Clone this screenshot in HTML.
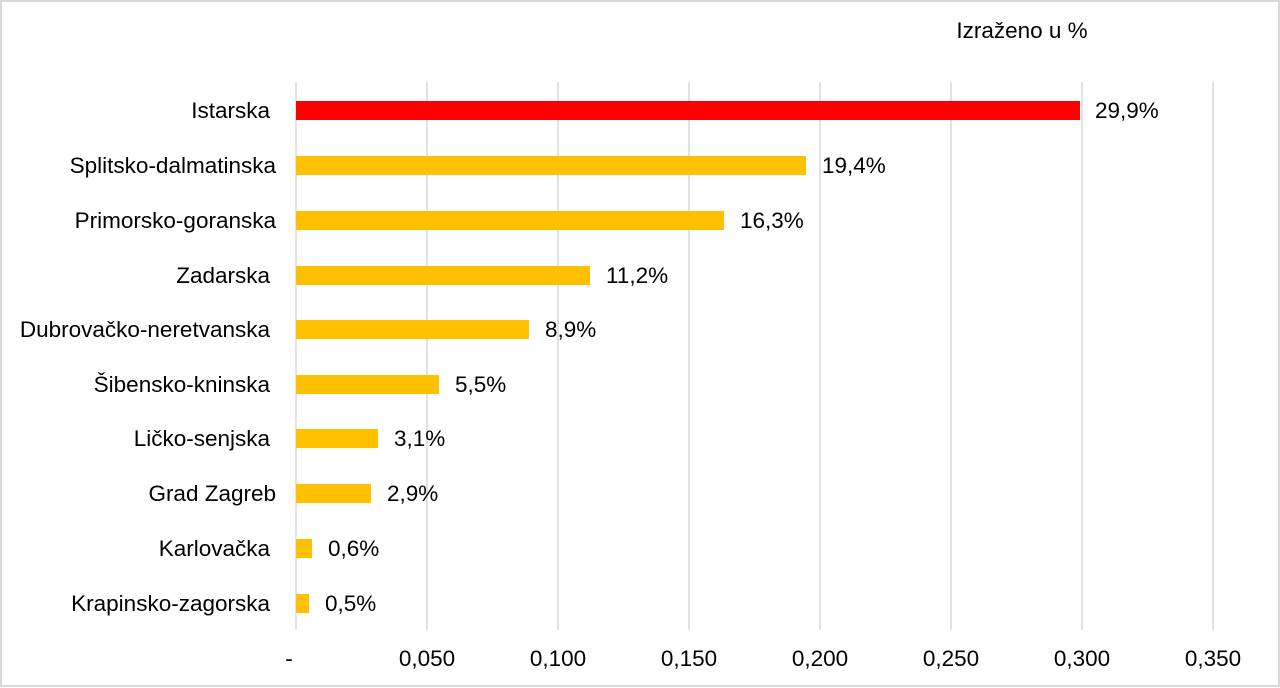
<!DOCTYPE html><html><head><style>body{margin:0}svg{display:block}text{font-family:"Liberation Sans",sans-serif;font-size:22.5px;fill:#000}</style></head><body>
<svg width="1280" height="688" xmlns="http://www.w3.org/2000/svg">
<rect x="0" y="0" width="1280" height="688" fill="#fff"/>
<rect x="1" y="1" width="1278" height="685" fill="none" stroke="#d9d9d9" stroke-width="2"/>
<g stroke="#d9d9d9" stroke-width="1.5">
<line x1="296" y1="82" x2="296" y2="630"/><line x1="427" y1="82" x2="427" y2="630"/><line x1="558" y1="82" x2="558" y2="630"/><line x1="689" y1="82" x2="689" y2="630"/><line x1="820" y1="82" x2="820" y2="630"/><line x1="951" y1="82" x2="951" y2="630"/><line x1="1082" y1="82" x2="1082" y2="630"/><line x1="1213" y1="82" x2="1213" y2="630"/>
</g>
<text x="1022" y="38" text-anchor="middle">Izraženo u %</text>
<g>
<rect x="296" y="101" width="784" height="19" fill="#ff0000"/>
<rect x="296" y="156" width="510" height="19" fill="#ffc000"/>
<rect x="296" y="211" width="428" height="19" fill="#ffc000"/>
<rect x="296" y="266" width="294" height="19" fill="#ffc000"/>
<rect x="296" y="320" width="233" height="19" fill="#ffc000"/>
<rect x="296" y="375" width="143" height="19" fill="#ffc000"/>
<rect x="296" y="429" width="82" height="19" fill="#ffc000"/>
<rect x="296" y="484" width="75" height="19" fill="#ffc000"/>
<rect x="296" y="539" width="16" height="19" fill="#ffc000"/>
<rect x="296" y="594" width="13" height="19" fill="#ffc000"/>
</g>
<g text-anchor="end">
<text x="270" y="118">Istarska</text>
<text x="276" y="173">Splitsko-dalmatinska</text>
<text x="276" y="228">Primorsko-goranska</text>
<text x="270" y="283">Zadarska</text>
<text x="270" y="337">Dubrovačko-neretvanska</text>
<text x="270" y="392">Šibensko-kninska</text>
<text x="270" y="446">Ličko-senjska</text>
<text x="276" y="501">Grad Zagreb</text>
<text x="270" y="556">Karlovačka</text>
<text x="270" y="611">Krapinsko-zagorska</text>
</g>
<text x="1095" y="118">29,9%</text>
<text x="822" y="173">19,4%</text>
<text x="740" y="228">16,3%</text>
<text x="606" y="283">11,2%</text>
<text x="545" y="337">8,9%</text>
<text x="455" y="392">5,5%</text>
<text x="394" y="446">3,1%</text>
<text x="387" y="501">2,9%</text>
<text x="328" y="556">0,6%</text>
<text x="325" y="611">0,5%</text>
<g text-anchor="middle">
<text x="289" y="666">-</text>
<text x="427" y="666">0,050</text><text x="558" y="666">0,100</text><text x="689" y="666">0,150</text><text x="820" y="666">0,200</text><text x="951" y="666">0,250</text><text x="1082" y="666">0,300</text><text x="1213" y="666">0,350</text>
</g>
</svg></body></html>
